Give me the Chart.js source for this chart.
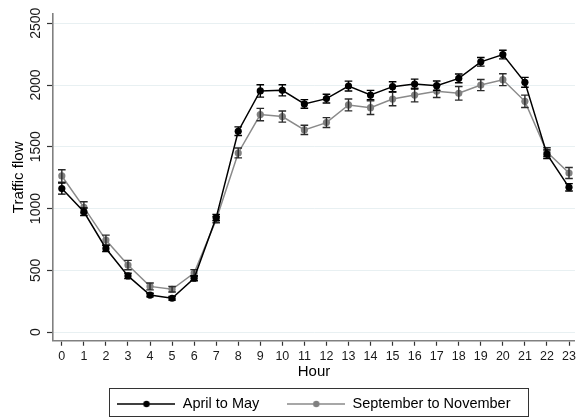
<!DOCTYPE html>
<html>
<head>
<meta charset="utf-8">
<script src="https://cdn.jsdelivr.net/npm/chart.js@4"></script>
<style>
  html, body { margin: 0; padding: 0; background: #fff; }
  #wrap { width: 579px; height: 420px; position: relative; }
</style>
</head>
<body>
<div id="wrap"><canvas id="trafficChart"></canvas></div>
<script>
// 시간대 (x축)
const hours = [0, 1, 2, 3, 4, 5, 6, 7, 8, 9, 10, 11, 12, 13, 14, 15, 16, 17, 18, 19, 20, 21, 22, 23];
const yTicks = [0, 500, 1000, 1500, 2000, 2500];

// 평균 교통량
const aprMay = [1162, 974, 677, 455, 300, 274, 436, 927, 1626, 1952, 1957, 1847, 1890, 1992, 1919, 1987, 2008, 1995, 2054, 2188, 2247, 2022, 1440, 1172];
const sepNov = [1264, 1010, 745, 543, 370, 347, 478, 910, 1450, 1761, 1745, 1637, 1696, 1839, 1817, 1887, 1919, 1949, 1933, 2000, 2043, 1868, 1457, 1288];

// 오차 막대 (±)
const aprMayErr = [45, 30, 25, 22, 15, 15, 20, 25, 35, 50, 45, 35, 35, 40, 38, 40, 40, 38, 35, 35, 35, 40, 35, 30];
const sepNovErr = [50, 45, 40, 38, 28, 22, 28, 25, 40, 50, 45, 38, 40, 48, 55, 55, 55, 50, 55, 45, 48, 50, 35, 45];

const FONT = '"Liberation Sans", Arial, Helvetica, sans-serif';

const toPoints = (vals) => hours.map((h, i) => ({ x: h, y: vals[i] }));

// 범례 아이콘: 선 + 점
function legendIcon(line, dot) {
  const c = document.createElement('canvas');
  c.width = 58; c.height = 10;
  const g = c.getContext('2d');
  g.strokeStyle = line; g.lineWidth = 1.5;
  g.beginPath(); g.moveTo(0, 5); g.lineTo(58, 5); g.stroke();
  g.fillStyle = dot;
  g.beginPath(); g.arc(29, 5, 3.2, 0, Math.PI * 2); g.fill();
  return c;
}

// 오차 막대 그리기
const errorBars = {
  id: 'errorBars',
  afterDatasetDraw(chart, args) {
    const ds = chart.data.datasets[args.index];
    if (!ds.errors) return;
    const { ctx } = chart;
    const ys = chart.scales.y;
    ctx.save();
    ctx.strokeStyle = ds.errorColor;
    ctx.lineWidth = 1.4;
    args.meta.data.forEach((pt, i) => {
      const v = ds.data[i].y, e = ds.errors[i];
      const top = ys.getPixelForValue(v + e), bot = ys.getPixelForValue(v - e);
      ctx.beginPath();
      ctx.moveTo(pt.x, top); ctx.lineTo(pt.x, bot);
      ctx.moveTo(pt.x - 3.8, top); ctx.lineTo(pt.x + 3.8, top);
      ctx.moveTo(pt.x - 3.8, bot); ctx.lineTo(pt.x + 3.8, bot);
      ctx.stroke();
    });
    ctx.restore();
  },
};

// 세로 y축 눈금 라벨 + 범례 테두리
const decorations = {
  id: 'decorations',
  afterDraw(chart) {
    const { ctx } = chart;
    const ys = chart.scales.y;
    ctx.save();
    ctx.font = '14px ' + FONT;
    ctx.fillStyle = '#1a1a1a';
    ctx.textAlign = 'center';
    ctx.textBaseline = 'middle';
    ys.ticks.forEach((t) => {
      ctx.save();
      ctx.translate(ys.right - 17, ys.getPixelForValue(t.value));
      ctx.rotate(-Math.PI / 2);
      ctx.fillText(String(t.value), 0, 0);
      ctx.restore();
    });
    const hb = chart.legend.legendHitBoxes;
    if (hb && hb.length) {
      const last = hb[hb.length - 1];
      const x0 = hb[0].left - 8, x1 = last.left + last.width + 18;
      const y0 = hb[0].top - 9, y1 = hb[0].top + 19;
      ctx.strokeStyle = '#333';
      ctx.lineWidth = 1;
      ctx.strokeRect(Math.round(x0) + 0.5, Math.round(y0) + 0.5, Math.round(x1 - x0), Math.round(y1 - y0));
    }
    ctx.restore();
  },
};

new Chart(document.getElementById('trafficChart'), {
  type: 'line',
  data: {
    datasets: [
      {
        label: 'April to May', data: toPoints(aprMay), errors: aprMayErr, errorColor: '#000',
        borderColor: '#000', backgroundColor: '#000', pointBackgroundColor: '#000', pointBorderWidth: 0,
        borderWidth: 1.5, pointRadius: 3.6, tension: 0,
      },
      {
        label: 'September to November', data: toPoints(sepNov), errors: sepNovErr, errorColor: '#2b2b2b',
        borderColor: '#8a8a8a', backgroundColor: '#808080', pointBackgroundColor: '#808080', pointBorderWidth: 0,
        borderWidth: 1.5, pointRadius: 3.6, tension: 0,
      },
    ],
  },
  options: {
    responsive: true, maintainAspectRatio: false, animation: false,
    layout: { padding: { top: 14, right: 0, left: 0, bottom: 0 } },
    plugins: {
      tooltip: { enabled: false },
      legend: {
        position: 'bottom', fullSize: false, maxHeight: 51.25,
        labels: {
          usePointStyle: true, pointStyleWidth: 58, padding: 28, color: '#000',
          font: { family: FONT, size: 14.5 },
          generateLabels: (chart) => chart.data.datasets.map((ds, i) => ({
            text: ds.label, datasetIndex: i, hidden: false, fontColor: '#000',
            pointStyle: legendIcon(ds.borderColor, ds.pointBackgroundColor),
            fillStyle: 'transparent', strokeStyle: 'transparent', lineWidth: 0,
          })),
        },
      },
    },
    scales: {
      x: {
        type: 'linear', min: -0.4, max: 23.27,
        afterBuildTicks: (s) => { s.ticks = hours.map((v) => ({ value: v })); },
        afterFit: (s) => { s.height = 28; },
        ticks: { color: '#1a1a1a', padding: 3, font: { family: FONT, size: 12.5 }, callback: (v) => String(v) },
        grid: { drawOnChartArea: false, drawTicks: true, tickLength: 5, tickColor: '#333', tickWidth: 1.2 },
        border: { display: true, color: '#808080', width: 1.6 },
        title: { display: true, text: 'Hour', color: '#000', font: { family: FONT, size: 15 }, padding: { top: 0, bottom: -12.25 } },
      },
      y: {
        min: -70, max: 2575,
        afterBuildTicks: (s) => { s.ticks = yTicks.map((v) => ({ value: v })); },
        afterFit: (s) => { s.width = 53; },
        ticks: { display: false },
        grid: { color: '#e8f0f2', lineWidth: 1, drawTicks: true, tickLength: 6, tickColor: '#333', tickWidth: 1.2 },
        border: { display: true, color: '#808080', width: 1.6 },
        title: { display: true, text: 'Traffic flow', color: '#000', font: { family: FONT, size: 15 }, padding: { top: 10, bottom: 0 } },
      },
    },
  },
  plugins: [errorBars, decorations],
});
</script>
</body>
</html>
